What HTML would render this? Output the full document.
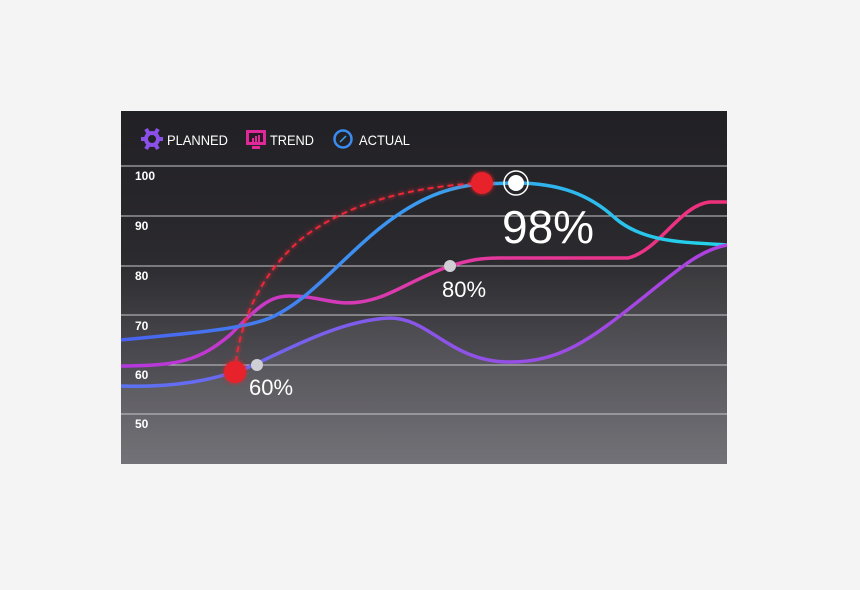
<!DOCTYPE html>
<html><head><meta charset="utf-8"><style>
html,body{margin:0;padding:0;width:860px;height:590px;background:#f4f4f4;overflow:hidden;font-family:"Liberation Sans",sans-serif}
</style></head><body>
<svg width="860" height="590" viewBox="0 0 860 590" xmlns="http://www.w3.org/2000/svg">
<defs>
<linearGradient id="bg" x1="0" y1="0" x2="0" y2="1">
<stop offset="0" stop-color="#212024"/><stop offset="0.42" stop-color="#2b2a2e"/><stop offset="0.72" stop-color="#4e4d53"/><stop offset="1" stop-color="#6b6a70"/></linearGradient>
<linearGradient id="gb" x1="0" y1="0" x2="1" y2="0"><stop offset="0" stop-color="#4a62f0"/><stop offset="0.5" stop-color="#3a9cf0"/><stop offset="1" stop-color="#22d6ea"/></linearGradient>
<linearGradient id="gp" x1="0" y1="0" x2="1" y2="0"><stop offset="0" stop-color="#b438e0"/><stop offset="0.5" stop-color="#e03aa8"/><stop offset="1" stop-color="#f0307a"/></linearGradient>
<linearGradient id="gv" x1="0" y1="0" x2="1" y2="0"><stop offset="0" stop-color="#5a72f5"/><stop offset="0.5" stop-color="#8a55e8"/><stop offset="1" stop-color="#b040e0"/></linearGradient>
<filter id="glow"><feGaussianBlur stdDeviation="2.5" result="b"/><feMerge><feMergeNode in="b"/><feMergeNode in="SourceGraphic"/></feMerge></filter>
</defs>
<rect x="121" y="111" width="606" height="353" fill="url(#bg)"/>
<path d="M121,386 C180,388 215,378 235,372 C260,366 330,320 390,318 C430,318 450,362 510,362 C560,362 590,340 640,300 C680,268 700,250 727,245 L727,464 L121,464Z" fill="#ffffff" fill-opacity="0.06"/>
<g stroke="#c8c8cc" stroke-width="1">
<line x1="121" y1="166" x2="727" y2="166"/><line x1="121" y1="216" x2="727" y2="216"/><line x1="121" y1="266" x2="727" y2="266"/><line x1="121" y1="315" x2="727" y2="315"/><line x1="121" y1="365" x2="727" y2="365"/><line x1="121" y1="414" x2="727" y2="414"/></g>
<g fill="#fff" font-size="12" font-weight="bold">
<text x="135" y="180">100</text><text x="135" y="230">90</text><text x="135" y="280">80</text><text x="135" y="330">70</text><text x="135" y="379">60</text><text x="135" y="428">50</text></g>
<path d="M121,366 C180,366 200,360 230,335 C260,305 270,296 290,296 C320,296 335,306 360,302 C390,298 410,280 450,266 C470,260 480,258 500,258 L628,258 C660,250 680,205 710,202 L727,202" fill="none" stroke="url(#gp)" stroke-width="3.5"/>
<path d="M121,340 C180,334 240,330 270,318 C310,300 340,260 380,228 C420,196 450,187 480,184 L515,183 C560,183 590,195 615,218 C645,244 690,242 727,245" fill="none" stroke="url(#gb)" stroke-width="3.5"/>
<path d="M121,386 C180,388 215,378 235,372 C260,366 330,320 390,318 C430,318 450,362 510,362 C560,362 590,340 640,300 C680,268 700,250 727,245" fill="none" stroke="url(#gv)" stroke-width="3.5"/>
<path d="M235,372 C238,330 255,280 300,240 C350,200 420,186 482,183" fill="none" stroke="#f02838" stroke-width="2" stroke-dasharray="6,4" filter="url(#glow)"/>
<circle cx="235" cy="372" r="11" fill="#e8202c" filter="url(#glow)"/>
<circle cx="482" cy="183" r="11" fill="#e8202c" filter="url(#glow)"/>
<circle cx="257" cy="365" r="6" fill="#d0d0d4"/>
<circle cx="450" cy="266" r="6" fill="#d0d0d4"/>
<circle cx="516" cy="183" r="12" fill="none" stroke="#fff" stroke-width="1.5"/>
<circle cx="516" cy="183" r="8" fill="#fff"/>
<g fill="#fff">
<text x="249" y="395" font-size="22">60%</text>
<text x="442" y="297" font-size="22">80%</text>
<text x="502" y="243" font-size="46">98%</text>
</g>
<g transform="translate(152,139)" fill="#8a50e8">
<circle r="8"/><g stroke="#8a50e8" stroke-width="4"><line x1="-11" y1="0" x2="11" y2="0"/><line x1="-6" y1="-10" x2="6" y2="10"/><line x1="6" y1="-10" x2="-6" y2="10"/></g><circle r="4" fill="#222126"/></g>
<text x="167" y="145" fill="#fff" font-size="14" textLength="61" lengthAdjust="spacingAndGlyphs">PLANNED</text>
<rect x="246" y="130" width="20" height="15" fill="#e0289a"/>
<rect x="249" y="133" width="14" height="9" fill="#2a1a26"/>
<rect x="252" y="146" width="8" height="3" fill="#e0289a"/>
<rect x="252" y="138" width="2" height="4" fill="#e0289a"/><rect x="255" y="136" width="2" height="6" fill="#e0289a"/><rect x="258" y="135" width="2" height="7" fill="#e0289a"/>
<text x="270" y="145" fill="#fff" font-size="14" textLength="44" lengthAdjust="spacingAndGlyphs">TREND</text>
<circle cx="343" cy="139" r="8.5" fill="none" stroke="#3a8cf0" stroke-width="2.5"/>
<line x1="340" y1="142" x2="346" y2="136" stroke="#3aa0f0" stroke-width="1.5"/>
<text x="359" y="145" fill="#fff" font-size="14" textLength="51" lengthAdjust="spacingAndGlyphs">ACTUAL</text>
</svg>
</body></html>
